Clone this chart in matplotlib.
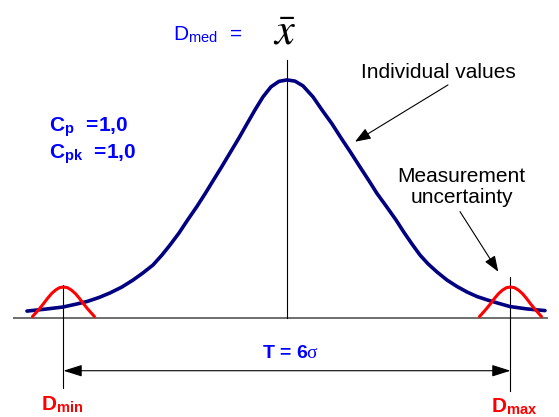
import matplotlib
matplotlib.use("Agg")
import matplotlib.pyplot as plt

# Achsen in Sigma-Einheiten (x) und relativer Dichte (y, Gipfel = 1)
plt.rcParams['font.family'] = ['Liberation Sans', 'DejaVu Sans']
plt.rcParams['mathtext.fontset'] = 'custom'
plt.rcParams['mathtext.rm'] = 'Liberation Serif'
plt.rcParams['mathtext.it'] = 'STIXGeneral:italic'

# Verteilung der Einzelwerte
blue_u = [-3.490, -3.248, -3.007, -2.846, -2.685, -2.523, -2.376, -2.215, -2.067,
          -1.933, -1.799, -1.678, -1.570, -1.450, -1.342, -1.208, -1.101, -0.993,
          -0.886, -0.765, -0.644, -0.537, -0.430, -0.322, -0.215, -0.107, 0.0,
          0.107, 0.215, 0.349, 0.470, 0.604, 0.725, 0.859, 0.980, 1.101,
          1.208, 1.329, 1.463, 1.570, 1.678, 1.785, 1.893, 2.013, 2.148,
          2.282, 2.416, 2.550, 2.685, 2.846, 2.993, 3.221, 3.463]
blue_h = [0.031, 0.039, 0.048, 0.059, 0.071, 0.088, 0.107, 0.132, 0.161,
          0.191, 0.224, 0.266, 0.308, 0.358, 0.409, 0.470, 0.522, 0.577,
          0.631, 0.694, 0.757, 0.816, 0.874, 0.929, 0.971, 0.994, 1.0,
          0.995, 0.975, 0.929, 0.874, 0.816, 0.757, 0.694, 0.635, 0.577,
          0.524, 0.472, 0.413, 0.361, 0.312, 0.266, 0.229, 0.195, 0.161,
          0.134, 0.111, 0.092, 0.078, 0.063, 0.050, 0.040, 0.033]

# Messunsicherheit an den Grenzen (relativ zur Grenze)
red_du = [-0.416, -0.376, -0.322, -0.268, -0.215, -0.161, -0.107, -0.054, 0.0,
          0.054, 0.107, 0.161, 0.215, 0.268, 0.322, 0.376, 0.416]
red_h = [0.008, 0.022, 0.041, 0.062, 0.084, 0.104, 0.119, 0.129, 0.132,
         0.129, 0.119, 0.104, 0.084, 0.062, 0.041, 0.022, 0.008]

d_min = -3.0
d_max = 3.0
cp_text = "C$_\\mathdefault{p}$  =1,0"
cpk_text = "C$_\\mathdefault{pk}$  =1,0"

BLUE = '#0000ff'
RED = '#ff0000'
NAVY = '#000080'

fig = plt.figure(figsize=(5.59, 4.17), dpi=100)
ax = fig.add_axes([0, 0, 1, 1])
ax.set_xlim(-3.852, 3.651)
ax.set_ylim(-0.413, 1.335)
ax.axis('off')

# Grundlinie und Mittellinie
ax.plot([-3.68, 3.50], [0, 0], color='#555555', lw=1.2, solid_capstyle='butt')
ax.plot([0, 0], [0, 1.084], color='black', lw=0.8)

# Grenzlinien
ax.plot([d_min, d_min], [0.140, -0.291], color='black', lw=0.8)
ax.plot([d_max, d_max], [0.173, -0.305], color='black', lw=0.8)

# Kurven
ax.plot(blue_u, blue_h, color=NAVY, lw=2.6, solid_capstyle='round', solid_joinstyle='round')
for d in (d_min, d_max):
    ax.plot([d + v for v in red_du], red_h, color=RED, lw=2.2,
            solid_capstyle='round', solid_joinstyle='round')

# Toleranzpfeil
ax.annotate('', xy=(d_max, -0.219), xytext=(d_min, -0.219),
            arrowprops=dict(arrowstyle='<|-|>,head_length=0.95,head_width=0.3',
                            mutation_scale=12, lw=0.8, color='black',
                            shrinkA=0, shrinkB=0))
ax.text(0.054, -0.164, "T = 6$\\mathrm{σ}$", color=BLUE, fontsize=14,
        fontweight='bold', ha='center', va='baseline')

# Beschriftungen oben
ax.text(-1.526, 1.168, "D$_\\mathdefault{med}$  =", color=BLUE, fontsize=15,
        ha='left', va='baseline')
ax.text(-0.038, 1.150, "$\\bar{x}$", fontsize=32, ha='center', va='baseline')

ax.text(-3.20, 0.786, cp_text, color=BLUE, fontsize=15, fontweight='bold',
        ha='left', va='baseline')
ax.text(-3.20, 0.673, cpk_text, color=BLUE, fontsize=15, fontweight='bold',
        ha='left', va='baseline')

# Hinweise mit Pfeilen
ax.text(2.034, 1.007, "Individual values", fontsize=15, ha='center', va='baseline')
ax.annotate('', xy=(0.913, 0.741), xytext=(2.161, 0.979),
            arrowprops=dict(arrowstyle='-|>,head_length=0.8,head_width=0.3',
                            mutation_scale=12, lw=0.8, color='black',
                            shrinkA=0, shrinkB=0))
ax.text(2.342, 0.574, "Measurement", fontsize=15, ha='center', va='baseline')
ax.text(2.342, 0.484, "uncertainty", fontsize=15, ha='center', va='baseline')
ax.annotate('', xy=(2.836, 0.196), xytext=(2.322, 0.448),
            arrowprops=dict(arrowstyle='-|>,head_length=0.8,head_width=0.3',
                            mutation_scale=12, lw=0.8, color='black',
                            shrinkA=0, shrinkB=0))

# Grenzbezeichnungen
ax.text(-3.30, -0.384, "D$_\\mathdefault{min}$", color=RED, fontsize=15,
        fontweight='bold', ha='left', va='baseline')
ax.text(2.745, -0.392, "D$_\\mathdefault{max}$", color=RED, fontsize=15,
        fontweight='bold', ha='left', va='baseline')

fig.savefig('out.png', dpi=100)
